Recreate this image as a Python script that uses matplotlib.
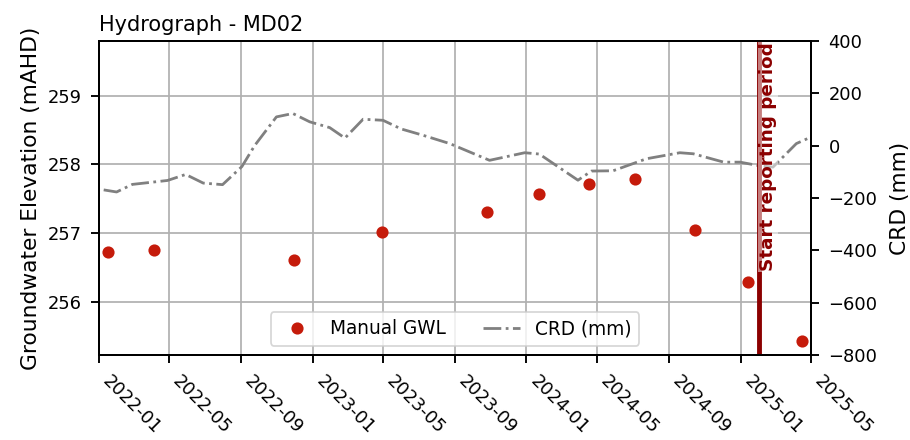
import datetime as dt

import numpy as np
import pandas as pd
import matplotlib
matplotlib.use("Agg")
import matplotlib.pyplot as plt
import matplotlib.dates as mdates


# manual groundwater levels (mAHD)
gwl_dates = ["2022-01-16", "2022-04-05", "2022-11-30", "2023-04-30", "2023-10-25",
             "2024-01-22", "2024-04-17", "2024-07-04", "2024-10-15", "2025-01-14",
             "2025-04-16"]
gwl_values = [256.73, 256.75, 256.61, 257.02, 257.30, 257.57, 257.72, 257.78,
              257.04, 256.29, 255.43]

# cumulative rainfall departure (mm)
crd_dates = ["2022-01-09", "2022-01-31", "2022-02-27", "2022-04-28", "2022-05-29",
             "2022-06-28", "2022-07-31", "2022-09-02", "2022-09-24", "2022-10-31",
             "2022-11-28", "2022-12-27", "2023-01-30", "2023-02-25", "2023-03-28",
             "2023-05-01", "2023-06-01", "2023-07-08", "2023-08-23", "2023-10-30",
             "2023-12-29", "2024-01-23", "2024-03-29", "2024-04-21", "2024-05-28",
             "2024-07-24", "2024-09-19", "2024-10-12", "2024-12-03", "2024-12-31",
             "2025-01-31", "2025-02-25", "2025-04-06", "2025-05-01"]
crd_values = [-169, -177, -148, -133, -110, -143, -149, -80, 1, 110,
              123, 91, 69, 29, 101, 97, 64, 40, 8, -56,
              -27, -32, -132, -97, -96, -50, -27, -31, -63, -63,
              -76, -82, 8, 33]

reporting_start = "2025-02-01"

GWL_COLOR = "#c51b0b"
LINE_COLOR = "#8b0000"

# sizes tuned to the reference pixels
plt.rcParams["axes.linewidth"] = 1.1
plt.rcParams["xtick.major.size"] = 4.6
plt.rcParams["ytick.major.size"] = 4.6
plt.rcParams["xtick.major.width"] = 1.1
plt.rcParams["ytick.major.width"] = 1.1
plt.rcParams["xtick.major.pad"] = 5.5
plt.rcParams["ytick.major.pad"] = 5.5
plt.rcParams["xtick.labelsize"] = 10.3
plt.rcParams["ytick.labelsize"] = 10.3


fig = plt.figure(figsize=(7.28, 3.52), dpi=125)
fig.subplots_adjust(left=0.1088, right=0.8912, bottom=0.1932, top=0.9068)
ax = fig.add_subplot(111)
ax2 = ax.twinx()

gwl_x = pd.to_datetime(gwl_dates)
crd_x = pd.to_datetime(crd_dates)

h1, = ax.plot(gwl_x, gwl_values, "o", color=GWL_COLOR, markersize=6,
              linestyle="none", label="Manual GWL")
h2, = ax2.plot(crd_x, crd_values, "-.", color="gray", linewidth=1.6,
               label="CRD (mm)")

# start of the reporting period
start = pd.to_datetime(reporting_start)
ax2.axvline(start, color=LINE_COLOR, linewidth=2.8)
ax2.text(start, 0.995, "Start reporting period", transform=ax2.get_xaxis_transform(),
         rotation=90, ha="left", va="top", color=LINE_COLOR, fontweight="bold",
         fontsize=10.6, bbox=dict(facecolor="white", alpha=0.5, edgecolor="none", pad=0.5))

ax.set_xlim(dt.datetime(2022, 1, 1), dt.datetime(2025, 5, 1))
ax.set_ylim(255.224, 259.797)
ax2.set_ylim(-800, 400)

ax.xaxis.set_major_locator(mdates.MonthLocator(bymonth=[1, 5, 9]))
ax.xaxis.set_major_formatter(mdates.DateFormatter("%Y-%m"))
ax.set_yticks([256, 257, 258, 259])
ax2.set_yticks(np.arange(-800, 401, 200))
plt.setp(ax.get_xticklabels(), rotation=-45, ha="left")

ax.grid(True, color="#b0b0b0", linewidth=1.0)
ax.set_axisbelow(True)

ax.set_ylabel("Groundwater Elevation (mAHD)", fontsize=12.5)
ax2.set_ylabel("CRD (mm)", fontsize=12.5, labelpad=7)
ax.set_title("Hydrograph - MD02", loc="left", fontsize=12)

ax2.legend([h1, h2], ["Manual GWL", "CRD (mm)"], loc="lower center", ncol=2,
           fontsize=10.7)

fig.savefig("out.png", dpi=125)
